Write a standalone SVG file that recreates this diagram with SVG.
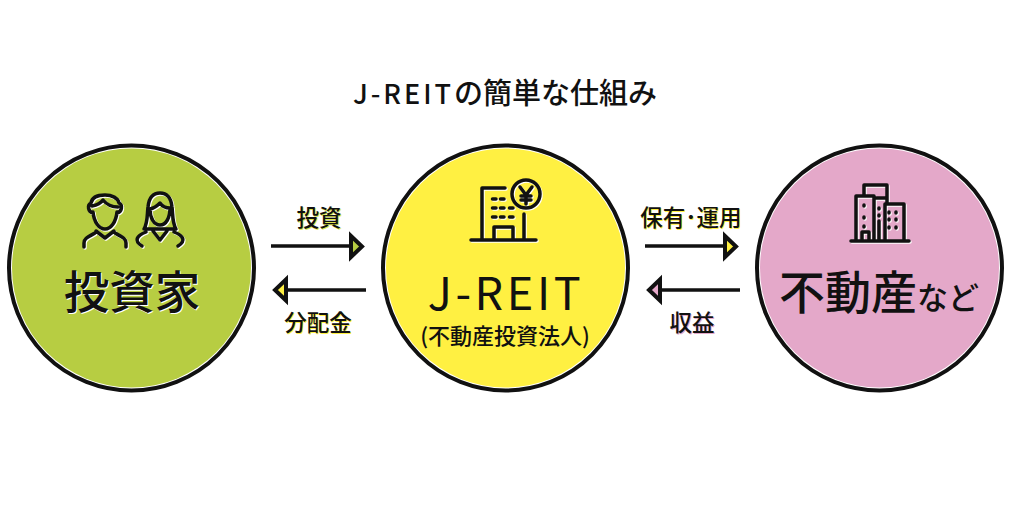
<svg xmlns="http://www.w3.org/2000/svg" width="1024" height="511" viewBox="0 0 1024 511">
<defs>
<style>
text{font-family:"Noto Sans CJK JP","Noto Sans",sans-serif;text-anchor:middle;fill:#111}
.ring{fill:#fff;stroke:#111;stroke-width:4}
.ic{fill:none;stroke:#111;stroke-width:3.500;stroke-linecap:round;stroke-linejoin:round}
.big{font-size:45.5px;font-weight:500}
.lab{font-size:22.5px;font-weight:500}
.line{stroke:#111;stroke-width:3.500;fill:none}
.head{stroke:#111;stroke-width:4;stroke-linejoin:miter}
</style>
<g id="man"><path d="M93 213C88 212 87 205 91 203C92 197 98 195 105 195C112 195 118 198 119 203C123 205 122 212 117 213M92 206C98 205 101 203 103 200C107 205 112 207 118 207M93 212C94 222 99 229 105 229C111 229 116 222 117 212M84 247V243C84 239 86 238 95 233M126 247V243C126 239 124 238 115 233M96 231L105 238L114 231"/></g>
<g id="woman"><path d="M144 229C148 222 147 214 148 207C149 197 154 193 160 193C166 193 171 197 172 207C173 214 172 222 176 229ZM150 209C155 208 158 205 160 203C162 206 166 208 170 208M150 209C150 218 154 225 160 225C166 225 170 218 170 208M146 232C136 236 134 241 142 246M174 232C184 236 186 241 178 246M153 231L160 240L167 231"/></g>
<g id="tower"><path d="M482 240V188H505M524 214V240M471 240H536M494 240V227H513V240"/><path stroke-width="3.500" d="M492.500 199H496M500.500 199H504M492.500 208H496M500.500 208H504M509.500 208H513M492.500 217H496M500.500 217H504M509.500 217H513"/><circle cx="526" cy="194" r="14"/><path d="M520 187L526 195L532 187M526 195V204M521 196H531M521 200H531"/></g>
<g id="city"><path d="M851 241H909M856 241V196H874V241M864 195V185H887V203M874 198H885M885 204H904V241H885ZM879 221V241M862 241V232H869V241"/><path d="M864 205V206M864 217V218M864 226V227M879 208V209M879 215V216M889 212V213M896 212V213M889 219V220M896 219V220M889 227V228M896 227V228"/></g>
</defs>
<rect width="1024" height="511" fill="#fff"/>
<text id="title" x="505" y="104" font-size="29" font-weight="500"><tspan font-size="27" letter-spacing="3">J-REIT</tspan>の簡単な仕組み</text>

<g id="investor">
<circle class="ring" cx="131.500" cy="268" r="122.500"/>
<circle cx="131.500" cy="268" r="119.500" fill="#b7cd42"/>
<g class="ic" style="stroke:#fff" transform="translate(1 1)"><use href="#man"/><use href="#woman"/></g>
<g class="ic"><use href="#man"/><use href="#woman"/></g>
<text class="big" x="132" y="309" style="fill:#fff" dx="1" dy="1">投資家</text>
<text class="big" x="132" y="309">投資家</text>
</g>

<g id="jreit">
<circle class="ring" cx="505.500" cy="268" r="122.500"/>
<circle cx="505.500" cy="268" r="119.500" fill="#fff042"/>
<g class="ic" style="stroke:#fff" transform="translate(1 1)"><use href="#tower"/></g>
<g class="ic"><use href="#tower"/></g>
<text x="506" y="310" font-size="45" font-weight="400" letter-spacing="3.600">J-REIT</text>
<text x="505" y="344" font-size="22" font-weight="500">(不動産投資法人)</text>
</g>

<g id="property">
<circle class="ring" cx="879.500" cy="268" r="122.500"/>
<circle cx="879.500" cy="268" r="119.500" fill="#e4a8c9"/>
<g class="ic" style="stroke:#fff" transform="translate(1 1)"><use href="#city"/></g>
<g class="ic"><use href="#city"/></g>
<text x="879" y="309" font-weight="500"><tspan font-size="46">不動産</tspan><tspan font-size="31">など</tspan></text>
</g>

<g id="connectors">
<path class="line" d="M271 246H352"/>
<path class="head" d="M351 236 362 246.500 351 257Z" fill="#b7cd42"/>
<path class="line" d="M366 290H286"/>
<path class="head" d="M286 279.500 275 290 286 300.500Z" fill="#fff042"/>
<path class="line" d="M645 246H725"/>
<path class="head" d="M725 236 736 246.500 725 257Z" fill="#fff042"/>
<path class="line" d="M740 290H660"/>
<path class="head" d="M660 279.500 649 290 660 300.500Z" fill="#e4a8c9"/>
</g>

<g id="labels" class="lab">
<text class="lab" x="319" y="226" style="fill:#e2e84a" dx="1" dy="1">投資</text>
<text class="lab" x="319" y="226">投資</text>
<text class="lab" x="318" y="331" style="fill:#fff042" dx="1" dy="1">分配金</text>
<text class="lab" x="318" y="331">分配金</text>
<text class="lab" x="691" y="226" style="fill:#fff042" dx="1" dy="1">保有･運用</text>
<text class="lab" x="691" y="226">保有･運用</text>
<text class="lab" x="692" y="331" style="fill:#e4a8c9" dx="1" dy="1">収益</text>
<text class="lab" x="692" y="331">収益</text>
</g>
</svg>
